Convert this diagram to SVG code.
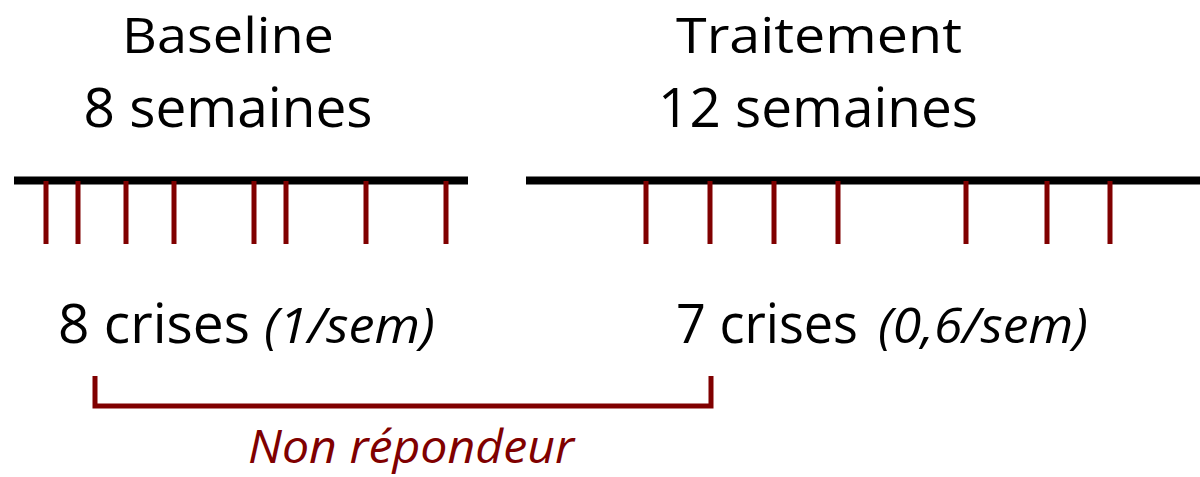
<svg xmlns="http://www.w3.org/2000/svg" width="1200" height="477" viewBox="0 0 1200 477">
<style>
text{font-family:"Open Sans","Noto Sans","Liberation Sans",sans-serif;fill:#000}
.h{font-size:54px;text-anchor:middle}
.t{font-size:49px;text-anchor:middle}
.c{font-size:54px}
.i{font-style:italic;font-size:50px}
.nr{font-style:italic;font-size:46px;fill:#800000;text-anchor:middle}
.axis{stroke:#000;stroke-width:8;fill:none}
.tick{stroke:#800000;stroke-width:5;fill:none}
.br{stroke:#800000;stroke-width:5;fill:none}
</style>
<rect width="1200" height="477" fill="#fff"/>
<g id="baseline-label">
<text class="t" x="228" y="53" textLength="212" lengthAdjust="spacingAndGlyphs">Baseline</text>
<text class="h" x="228" y="127" textLength="289" lengthAdjust="spacingAndGlyphs">8 semaines</text>
</g>
<g id="traitement-label">
<text class="t" x="819" y="53" textLength="286" lengthAdjust="spacingAndGlyphs">Traitement</text>
<text class="h" x="818" y="127" textLength="320" lengthAdjust="spacingAndGlyphs">12 semaines</text>
</g>
<g id="baseline-axis">
<line class="axis" x1="14" y1="180.5" x2="468" y2="180.5"/>
<path class="tick" d="M46 181V244M78 181V244M126 181V244M174 181V244M254 181V244M286 181V244M366 181V244M446 181V244"/>
</g>
<g id="traitement-axis">
<line class="axis" x1="526" y1="180.5" x2="1200" y2="180.5"/>
<path class="tick" d="M646 181V244M710 181V244M774 181V244M838 181V244M966 181V244M1047 181V244M1110 181V244"/>
</g>
<g id="baseline-count">
<text class="c" x="58" y="343" textLength="192" lengthAdjust="spacingAndGlyphs">8 crises</text>
<text class="i" x="264" y="343" textLength="171" lengthAdjust="spacingAndGlyphs">(1/sem)</text>
</g>
<g id="traitement-count">
<text class="c" x="676" y="343" textLength="182" lengthAdjust="spacingAndGlyphs">7 crises</text>
<text class="i" x="878" y="343" textLength="210" lengthAdjust="spacingAndGlyphs">(0,6/sem)</text>
</g>
<g id="connectors">
<path class="br" d="M95 376V406H711V376"/>
</g>
<g id="non-repondeur">
<text class="nr" x="411" y="463" textLength="326" lengthAdjust="spacingAndGlyphs">Non répondeur</text>
</g>
</svg>
